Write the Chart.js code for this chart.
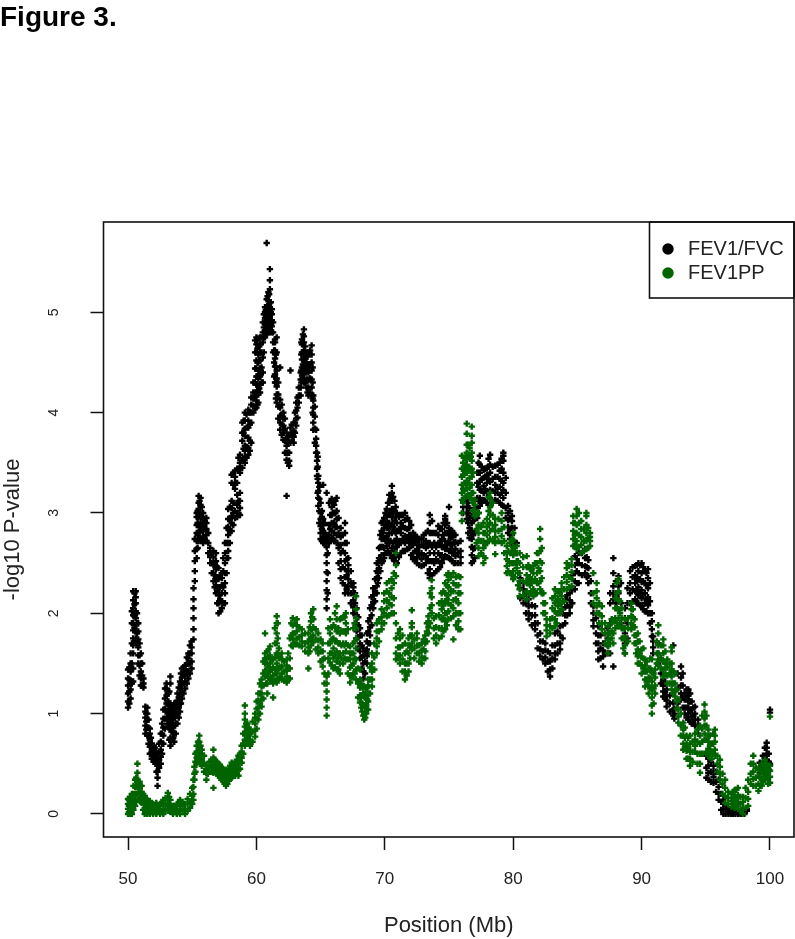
<!DOCTYPE html>
<html>
<head>
<meta charset="utf-8">
<title>Figure 3.</title>
<script src="https://cdn.jsdelivr.net/npm/chart.js@4"></script>
<style>
    body { margin: 0; background: #fff; }
    canvas { display: block; }
</style>
</head>
<body>
<canvas id="chart" width="795" height="939"></canvas>
<script>
const seriesNames = ["FEV1/FVC", "FEV1PP"];
const xTicksStep = 10;
const yTicksStep = 1;

// position (Mb) of each column of marks
const fvcPos = [50,50.2,50.4,50.6,50.8,51,51.2,51.35,51.5,51.7,51.85,52,52.15,52.3,52.55,52.75,53,53.15,53.3,53.45,53.6,53.85,54.05,54.2,54.45,54.7,54.95,55.1,55.2,55.35,55.5,55.65,55.85,56.1,56.4,56.65,56.85,57.05,57.3,57.55,57.8,58.07,58.33,58.72,58.9,59.1,59.37,59.6,59.76,60,60.15,60.28,60.5,60.67,60.8,60.93,61.05,61.2,61.45,61.58,61.85,62.1,62.35,62.55,62.65,62.9,63.1,63.3,63.45,63.55,63.7,63.9,64.05,64.3,64.43,64.65,64.72,64.82,65,65.2,65.47,65.65,65.86,66.05,66.25,66.56,66.9,67.16,67.55,67.8,68.07,68.33,68.6,68.85,69.1,69.37,69.55,69.75,69.95,70.15,70.35,70.55,70.75,70.93,71.25,71.57,71.9,72.2,72.5,72.86,73.2,73.5,73.85,74.17,74.45,74.7,75,75.25,75.5,75.9,76.1,76.38,76.6,76.77,77,77.2,77.4,77.7,77.95,78.2,78.6,78.95,79.23,79.6,79.9,80.27,80.8,81.2,81.7,82.1,82.5,82.87,83.25,83.65,84.05,84.4,84.8,85.1,85.6,85.85,86.25,86.63,87,87.35,87.8,88.2,88.7,89.1,89.5,89.75,90,90.25,90.5,90.8,90.9,91.3,91.69,91.95,92.47,92.55,93.07,93.35,93.64,93.9,94.16,94.4,95.2,95.6,96,96.37,96.76,97.1,97.5,97.85,98.2,99.2,99.45,99.74,100];
const fvcVals = [
[1.06,1.12,1.2,1.28,1.35,1.44],[1.15,1.24,1.33,1.42,1.5,1.6],[1.32,1.45,1.6,1.68,1.75,1.83,1.9,1.98,2.05,2.13,2.22],[1.75,1.82,1.88,1.95,2.02,2.1,2.16,2.22],[1.5,1.58,1.66,1.74,1.82,1.9],[1.28,1.35,1.42,1.5,1.6],[1.26,1.3,1.35],
[0.8,0.88,0.96,1.02,1.07],[0.78,0.86,0.94,1,1.06],[0.6,0.67,0.74,0.8,0.85],[0.55,0.62,0.7],[0.52,0.58,0.64,0.68],[0.5,0.56,0.62],[0.28,0.36,0.42,0.48,0.54,0.6],[0.5,0.57,0.64,0.72,0.8],[0.7,0.78,0.86,0.95,1.04],
[0.95,1.02,1.1,1.18,1.25,1.3],[0.88,0.96,1.04,1.12,1.2],[0.68,0.76,0.84,0.92,1,1.08,1.3,1.37],[0.75,0.83,0.9,0.98,1.06],[0.72,0.8,0.88,0.96,1.04,1.1],[0.9,0.98,1.06,1.13,1.2],[1.02,1.1,1.17,1.25,1.32],[1.15,1.22,1.29,1.36,1.45],[1.25,1.32,1.38,1.44,1.48],[1.35,1.42,1.5,1.55,1.6],[1.45,1.52,1.6,1.66,1.72],
[1.74,1.84,1.95,2.05,2.14,2.25],[2.32,2.42,2.52,2.62,2.74],[2.55,2.64,2.72,2.8,2.88,2.96,3],[2.72,2.8,2.88,2.96,3.04,3.1,3.17],[2.75,2.83,2.9,3,3.08,3.15],[2.7,2.76,2.82,2.88,2.94,3],[2.72,2.78,2.84,2.9,2.95],[2.5,2.56,2.6,2.65],[2.32,2.4,2.48,2.56,2.62],[2.2,2.28,2.36,2.44,2.52,2.6],[2,2.1,2.18,2.26,2.34,2.45],[2.05,2.12,2.2,2.28,2.35,2.4],[2.1,2.2,2.3,2.4,2.5,2.6,2.7],[2.55,2.62,2.7,2.78,2.86,2.94,3.04],
[2.82,2.9,2.97,3.05,3.12,3.3,3.38],[2.95,3.02,3.24,3.3,3.36,3.42],[2.98,3.05,3.12,3.2,3.4,3.45,3.5,3.58],[3.45,3.52,3.72,3.8,3.9],[3.5,3.56,3.62,3.67,3.77,3.84,3.92,4],[3.58,3.65,3.75,3.85,3.92,4.03],[3.7,3.9,4,4.08,4.15],[4,4.07,4.14,4.2,4.3],
[4.05,4.12,4.2,4.28,4.36,4.44,4.52,4.6,4.68,4.75],[4.1,4.18,4.26,4.34,4.42,4.5,4.58,4.66,4.74],[4.2,4.28,4.36,4.44,4.52,4.6,4.68,4.75],[4.3,4.4,4.55,4.7,4.8,4.9],[4.75,4.82,4.88,4.94,5,5.05],[4.78,4.86,4.95,5.05,5.13,5.69],[4.85,4.92,5,5.06,5.12,5.2],[4.8,4.88,4.96,5.04,5.1,5.23,5.32,5.43],[4.8,4.86,4.92,4.98,5.03],
[4.3,4.38,4.46,4.54,4.62,4.7,4.73],[4.1,4.18,4.26,4.34,4.42,4.6,4.75],[3.83,3.9,3.97,4.05,4.13,4.45],[3.73,3.8,3.87,3.94,4],[3.53,3.6,3.67,3.74,3.8,3.17],[3.47,3.52,3.6],[3.7,3.78,3.85,4.42],[3.7,3.76,3.82,3.9],[3.87,3.94,4.02,4.1],[4.1,4.17,4.25],[4.17,4.25,4.33,4.4],[4.37,4.45,4.53,4.6,4.68,4.73],[4.3,4.38,4.46,4.54,4.62,4.7,4.76,4.83],[4.25,4.33,4.41,4.5,4.58],[4.17,4.25,4.33,4.4,4.48,4.6],[4.17,4.25,4.33,4.42,4.5,4.58,4.67],
[3.83,3.9,3.98,4.05,4.12,4.17],[3.6,3.67,3.74,3.83],[3.37,3.44,3.52,3.6],[3.07,3.15,3.22,3.3,3.37],[2.74,2.8,2.87,2.94,3,3.1],[2.7,2.76,2.82,2.88,2.94,3.28],[2.05,2.14,2.23,2.32,2.41,2.5,2.58,2.66,2.74,3.2],[2.7,2.78,2.88,3.1],[2.75,2.82,2.9,2.98,3.06,3.14],[2.72,2.8,2.9,3,3.08],[2.7,2.78,2.86,2.94,3.02,3.15],
[2.35,2.44,2.52,2.6,2.68,2.76,2.85],[2.2,2.28,2.36,2.44,2.52,2.6,2.7,2.8,2.9],[2.2,2.27,2.34,2.42,2.48,2.55],[2,2.06,2.13,2.2,2.26,2.3],[1.75,1.82,1.9,1.98,2.05],[1.55,1.62,1.7,1.78,1.85],[1.35,1.42,1.5,1.58,1.65],[1.5,1.57,1.64,1.72,1.8],[1.7,1.78,1.86,1.95,2.05],[2.05,2.11,2.18,2.25],[2.2,2.27,2.35,2.42,2.5],[2.35,2.45,2.55,2.65],[2.5,2.58,2.66,2.74,2.82,2.9],[2.55,2.65,2.75,2.85,2.95],
[2.6,2.67,2.77,2.85,2.92,2.98,3.04],[2.6,2.7,2.8,2.9,3,3.1,3.18],[2.55,2.65,2.8,2.88,2.96,3.04,3.12,3.2,3.27],[2.52,2.62,2.72,2.82,2.92,3.02,3.12],[2.5,2.58,2.66,2.74,2.82,2.9,3],[2.6,2.7,2.8,2.9,2.98],[2.62,2.7,2.77,2.85,2.93,3],[2.65,2.72,2.78,2.85,2.92],[2.54,2.6,2.68,2.74,2.8],[2.5,2.56,2.62,2.7,2.76],[2.47,2.54,2.6,2.68,2.74],[2.5,2.57,2.65,2.72,2.8],[2.35,2.44,2.52,2.6,2.7,2.8,2.9,2.98],[2.4,2.5,2.6,2.7,2.8],[2.44,2.52,2.6,2.7,2.78,2.87],[2.5,2.58,2.66,2.74,2.84],[2.57,2.64,2.72,2.8,2.88,2.94,2.97],
[2.55,2.62,2.7,2.78,2.85,3.06],[2.52,2.6,2.68,2.76,2.82],[2.5,2.57,2.64,2.71,2.78],[2.5,2.56,2.62,2.72],[3,3.06,3.12],[2.94,3,3.06,3.13],[2.75,2.85,2.95,3.05],[2.5,2.58,2.66,2.74,2.82,2.9,2.97],[2.55,2.65,2.8,2.95,3.05],[2.95,3.05,3.15,3.3,3.4],[3.07,3.15,3.23,3.31,3.4,3.48,3.57],[3.13,3.2,3.27,3.35,3.43],[3.1,3.2,3.3,3.38,3.45],[3.07,3.15,3.23,3.31,3.4,3.48,3.58],[3.13,3.2,3.28,3.36,3.47],[3.1,3.18,3.26,3.34,3.42,3.5],[3.07,3.15,3.23,3.3,3.4,3.52,3.57,3.6],[2.8,2.86,2.93,3,3.07],[2.7,2.78,2.85,2.92,2.97],[2.5,2.6,2.7],
[2.1,2.17,2.24,2.3],[1.94,2,2.07,2.14],[1.84,1.9,1.98,2.07],[1.57,1.64,1.72,1.8],[1.5,1.56,1.63,1.7],[1.37,1.44,1.52,1.6],[1.54,1.6,1.68,1.8],[1.64,1.7,1.78,1.87],[1.9,1.98,2.06,2.14],[2,2.06,2.13,2.2],[2.24,2.32,2.4,2.48,2.57],[2.3,2.4,2.5,2.6],[2.4,2.47,2.55,2.64],[2.3,2.37,2.45,2.53],[1.87,1.93,2,2.07],[1.54,1.62,1.7,1.78,1.87],[1.47,1.57,1.63,1.7],[1.6,1.68,1.75,1.85],[1.47,2.14,2.2,2.27,2.4,2.55],[2.14,2.2,2.27,2.37],[1.6,1.7,1.8,1.95,2.05],[2.1,2.2,2.3,2.42],[2.14,2.22,2.3,2.38,2.47],[2.1,2.18,2.26,2.34,2.42,2.5],[2.07,2.15,2.23,2.31,2.4,2.5],[2.02,2.1,2.2,2.3,2.42],[2,2.08,2.16,2.25,2.35,2.44],[1.77,1.84,1.92,2],[1.6,1.66,1.72,1.77],
[1.5,1.6,1.7],[1.17,1.22,1.28,1.34],[1.07,1.13,1.18,1.24],[0.98,1.04,1.11,1.68],[0.95,1,1.05],[1.14,1.2,1.28,1.36,1.47],[1,1.06,1.14,1.2],[0.94,1,1.06,1.12,1.18,1.24],[0.9,0.97,1.04,1.12],[0.88,0.94,1,1.07],[0.88,0.94,0.8],[0.34,0.41,0.48,0.55,0.61],[0.31,0.37,0.42,0.48],[0.14,0.2,0.27,0.34],[0,0.05,0.1,0.14],[0,0.03,0.05],[0,0.03],[0,0.03,0.05],[0,0.03],[0.03,0.05],[0.41,0.46,0.51],[0.45,0.52,0.58],[0.48,0.54,0.6,0.66,0.71],[0.5,1.01,1.04]
];
// second reading between those columns: [position, value, value, ...]
const fvcInBetween = [
[50.1,1.1,1.22,1.34,1.46],[50.3,1.3,1.5,1.7,1.9,2.02],[50.5,1.72,1.85,1.97,2.09,2.2],[50.7,1.7,1.8,1.9,2],[50.9,1.38,1.48,1.58,1.7],[51.1,1.28,1.38,1.5],[51.42,0.84,0.92,1],[51.6,0.7,0.78,0.86,0.94],[51.78,0.6,0.68,0.76],[51.92,0.55,0.62],[52.08,0.52,0.6,0.66],[52.22,0.42,0.5,0.58],[52.42,0.46,0.54,0.62,0.7],[52.65,0.6,0.7,0.8,0.9],[52.88,0.85,0.95,1.05,1.15,1.25],[53.08,0.9,1,1.1,1.2],[53.22,0.74,0.86,0.98,1.1,1.22],[53.38,0.72,0.82,0.94,1.02],[53.52,0.76,0.86,0.94,1.02],[53.72,0.8,0.9,1,1.1],[53.95,0.96,1.06,1.16,1.26],[54.12,1.1,1.2,1.3,1.4],[54.32,1.2,1.3,1.4,1.46],[54.58,1.3,1.4,1.5,1.56],[54.82,1.4,1.5,1.6,1.68],
[55.42,2.65,2.78,2.9,3.02],[55.57,2.74,2.86,2.98,3.12],[55.75,2.72,2.84,2.96,3.06],[55.98,2.74,2.84,2.92],[56.25,2.6,2.7,2.8],[56.52,2.4,2.5,2.6],[56.75,2.26,2.38,2.5],[56.95,2.1,2.22,2.34,2.46],[57.18,2.02,2.14,2.26,2.38],[57.42,2.1,2.26,2.42,2.55],[57.68,2.4,2.55,2.7,2.85],[57.93,2.7,2.82,2.94,3.06],[58.2,2.88,3,3.1,3.28,3.4],[58.5,2.96,3.08,3.18,3.3,3.44],[58.6,3,3.12,3.44,3.55],[59,3.54,3.64,3.8,3.92],[59.23,3.55,3.66,3.85,3.98],[59.48,3.62,3.72,3.88,4],[59.9,4.04,4.16,4.3,4.44,4.6,4.72],[60.08,4.08,4.22,4.36,4.5,4.64,4.72],[60.22,4.24,4.38,4.52,4.66],[60.4,4.3,4.45,4.6,4.75],[60.58,4.6,4.75,4.85,4.98],[60.73,4.78,4.9,5.02],[60.87,4.82,4.94,5.06,5.16],[60.99,4.84,4.96,5.08,5.18],[61.12,4.82,4.9,5,5.1],[61.3,4.6,4.7,4.8,4.9],[61.38,4.36,4.5,4.62],[61.52,4.14,4.3,4.46,4.58],[61.7,3.94,4.06,4.18,4.3],[61.97,3.78,3.88,3.98,4.08],[62.22,3.6,3.72,3.84,3.94],[62.45,3.5,3.6,3.7,3.76],[62.75,3.72,3.8,3.88],[63,3.8,3.9,4],[63.2,3.95,4.05,4.15],[63.5,4.3,4.42,4.58,4.7],[63.62,4.34,4.48,4.6,4.78],[63.8,4.3,4.42,4.54,4.66],[63.98,4.2,4.32,4.44,4.56],[64.18,4.2,4.34,4.48,4.62],[64.38,4,4.14,4.3,4.45],[64.55,3.7,3.84,3.96,4.06],[64.77,3.2,3.34,3.46,3.56],[64.9,2.9,3.02,3.14,3.26],
[65.1,2.72,2.84,2.96,3.02],[65.32,2.7,2.8,2.9],[65.55,2.2,2.4,2.6,2.75],[65.75,2.72,2.84,2.98],[65.95,2.74,2.88,3,3.12],[66.15,2.72,2.86,3,3.12],[66.4,2.5,2.65,2.8,2.95],[66.72,2.3,2.46,2.62,2.78],[67.03,2.24,2.38,2.54,2.7],[67.35,2.1,2.2,2.3,2.42],[67.68,1.9,2,2.1,2.2],[67.93,1.65,1.76,1.88,1.96],[68.2,1.45,1.56,1.68,1.78],[68.46,1.4,1.52,1.62],[68.72,1.6,1.7,1.82,1.92],[68.97,1.88,1.98,2.08,2.16],[69.24,2.12,2.22,2.34],[69.46,2.3,2.4,2.5],[69.65,2.42,2.54,2.66,2.78],[69.85,2.52,2.66,2.8,2.92],[70.05,2.6,2.72,2.88,3],[70.25,2.62,2.74,2.86,2.98,3.1],[70.45,2.58,2.72,2.86,3,3.14],[70.65,2.56,2.7,2.86,3,3.16],[70.85,2.52,2.66,2.8,2.96,3.06],[71.1,2.56,2.7,2.84,2.96],[71.4,2.62,2.74,2.86,2.98],[71.75,2.64,2.74,2.84,2.95],[72.05,2.58,2.68,2.78,2.88],[72.35,2.52,2.62,2.72,2.78],[72.68,2.48,2.58,2.66,2.74],[73.03,2.48,2.58,2.68,2.78],[73.35,2.4,2.54,2.68,2.82],[73.68,2.38,2.52,2.66,2.8,2.92],[74,2.42,2.54,2.66,2.8],[74.3,2.46,2.58,2.7,2.84],[74.58,2.54,2.66,2.78,2.9],[74.85,2.56,2.68,2.8,2.9],[75.12,2.54,2.64,2.74,2.82],[75.38,2.5,2.6,2.7,2.78],[75.7,2.5,2.6,2.7],
[76.5,2.8,2.9,3,3.1],[76.88,2.52,2.64,2.78,2.92],[77.3,3,3.12,3.26,3.4,3.5],[77.55,3.1,3.22,3.34,3.46],[77.82,3.12,3.24,3.36,3.44],[78.08,3.08,3.2,3.34,3.46,3.54],[78.4,3.1,3.22,3.34,3.46],[78.78,3.12,3.24,3.36,3.48],[79.1,3.08,3.2,3.32,3.44,3.54],[79.42,2.95,3.05,3.2,3.35],[79.75,2.74,2.84,2.94,3.02],[80.1,2.5,2.6,2.7,2.85],[80.55,2.15,2.25,2.35],[81,2,2.1,2.2],[81.45,1.88,1.98,2.08],[81.9,1.65,1.78,1.9],[82.3,1.54,1.62,1.72],[82.7,1.42,1.52,1.62],[83.05,1.45,1.55,1.68],[83.45,1.6,1.7,1.82],[83.85,1.75,1.88,2],[84.2,1.98,2.08,2.18],[84.6,2.1,2.24,2.38],[84.95,2.3,2.42,2.54],[85.35,2.38,2.48,2.6],[85.72,2.36,2.46,2.56],[86.05,2.1,2.2,2.32],[86.45,1.7,1.8,1.95],[86.8,1.55,1.65,1.78],[87.15,1.6,1.7,1.8],[87.55,1.6,1.9,2.1,2.2],[88,2.1,2.2,2.32],[88.4,1.9,2.1,2.3],[88.9,1.75,1.9,2.1,2.25],[89.3,2.12,2.24,2.36,2.46],[89.62,2.1,2.22,2.34,2.48],[89.88,2.08,2.2,2.34,2.48],[90.12,2.04,2.18,2.32,2.46],[90.38,2.02,2.14,2.28,2.4],[90.65,1.9,2,2.12,2.3],[91.5,1.3,1.4,1.55],[91.82,1.15,1.22,1.3],[92.2,1.02,1.1,1.18],[92.8,1.1,1.25,1.4],[93.2,1.06,1.16,1.28,1.4],[93.5,0.96,1.06,1.16,1.24],[93.78,0.92,1.02,1.12,1.2],[94.03,0.9,0.98,1.06],[95.05,0.36,0.46,0.58],[95.4,0.32,0.42,0.52],[95.8,0.22,0.32,0.42],[96.2,0.04,0.12,0.2],[96.55,0,0.05,0.09],[96.95,0,0.03],[97.3,0,0.03],[97.7,0,0.03],[98,0,0.03],[99.6,0.46,0.56,0.66],[99.9,0.44,0.52,0.6]
];

const ppPos = [50,50.15,50.3,50.55,50.73,50.9,51.06,51.3,51.5,51.7,51.95,52.2,52.5,52.75,53.1,53.3,53.5,53.8,54.05,54.44,54.83,55.09,55.17,55.35,55.55,55.74,56.1,56.35,56.65,56.9,57.16,57.4,57.63,57.85,58.07,58.35,58.6,58.85,59.1,59.3,59.5,59.9,60.15,60.4,60.67,60.85,61.06,61.3,61.58,61.75,61.97,62.36,62.6,62.83,63.14,63.53,64.05,64.25,64.43,64.82,65.16,65.47,65.73,66,66.25,66.5,66.75,66.97,67.3,67.55,67.76,68.07,68.25,68.4,68.55,68.7,69,69.37,69.75,70.15,70.53,70.87,71.18,71.57,71.85,72.1,72.5,72.87,73.15,73.4,73.65,74,74.43,74.7,74.95,75.34,75.73,76,76.2,76.38,76.6,76.77,77,77.3,77.68,77.95,78.2,78.6,79.1,79.5,79.75,80,80.27,80.5,81.05,81.3,81.57,81.85,82.1,82.35,82.6,82.87,83.25,83.5,83.77,84.17,84.55,84.68,84.94,85.3,85.7,85.98,86.5,86.9,87.4,87.67,87.95,88.2,88.45,88.7,89.2,89.45,89.7,90,90.27,90.55,90.8,91.05,91.3,91.69,92,92.34,92.6,92.86,93.25,93.5,93.77,94.16,94.55,94.9,95.2,95.45,95.7,96.1,96.5,97,97.25,97.5,97.9,98.3,98.7,99.1,99.35,99.6,99.85,100];
const ppVals = [
[0,0.05,0.1,0.15],[0,0.06,0.12,0.17],[0,0.07,0.13,0.2],[0.08,0.14,0.2,0.27,0.34],[0.14,0.2,0.27,0.34,0.41,0.5],[0.14,0.2,0.26,0.32],[0.11,0.16,0.22,0.28],[0,0.06,0.12,0.18],[0,0.05,0.1,0.14],[0,0.05,0.1,0.13],[0,0.05,0.1],[0,0.05,0.11],[0,0.05,0.1],[0,0.05,0.1,0.14],[0.03,0.08,0.14,0.21],[0.02,0.08,0.14],[0,0.04,0.08],[0,0.05,0.1],[0,0.05,0.1,0.14],[0,0.05,0.1],[0.06,0.12,0.2],
[0.14,0.2,0.27,0.34],[0.34,0.4,0.47],[0.51,0.56,0.62,0.68],[0.54,0.6,0.66,0.72,0.78],[0.48,0.54,0.6,0.64],[0.34,0.41,0.45,0.49],[0.42,0.47,0.52],[0.26,0.41,0.46,0.52,0.56,0.64],[0.4,0.46,0.52],[0.36,0.42,0.49],[0.33,0.39,0.45],[0.28,0.34,0.39,0.44],[0.33,0.39,0.45],[0.36,0.42,0.47,0.51],[0.38,0.44,0.5],[0.38,0.44,0.5,0.58],[0.51,0.56,0.62,0.68],[0.68,0.74,0.8,0.87,0.94,1,1.08],[0.7,0.76,0.84,0.9],[0.68,0.74,0.8,0.84],
[0.77,0.83,0.9,0.96,1],[0.94,1,1.06,1.13,1.2],[1.07,1.14,1.2,1.27,1.34],[1.37,1.43,1.5,1.55,1.6,1.8],[1.2,1.3,1.4,1.5,1.62],[1.34,1.42,1.5,1.58,1.67],[1.3,1.38,1.46,1.54,1.16],[1.31,1.4,1.5,1.6,1.7,1.8,1.9,1.97],[1.35,1.45,1.55,1.65],[1.34,1.4,1.47,1.54,1.6],[1.31,1.37,1.43,1.48,1.54],[1.35,1.45,1.55,1.75],[1.67,1.74,1.8,1.88,1.95],[1.69,1.75,1.82,1.88,1.94],[1.67,1.72,1.78,1.84],[1.6,1.66,1.72,1.8,1.45],[1.68,1.76,1.84,1.92,2],[1.71,1.78,1.86,1.94,2.04],[1.6,1.66,1.73,1.8],[1.47,1.54,1.62,1.7],
[0.98,1.06,1.14,1.22,1.3,1.37],[1.51,1.6,1.7,1.8,1.94],[1.45,1.55,1.65,1.75,1.88],[1.44,1.52,1.62,1.72,1.82,1.94,2.07],[1.4,1.5,1.6,1.7,1.8,1.94],[1.5,1.6,1.7,1.82,1.96],[1.54,1.62,1.7,1.8,1.9,2],[1.31,1.38,1.46,1.54,1.6,1.67],[1.4,1.5,1.6,1.7,1.85],[1.34,1.44,1.54,1.65,1.75,1.85,1.95,2.04,2.17],[1.11,1.18,1.26,1.34,1.44],[1.02,1.1,1.18,1.26],[0.94,1,1.08,1.17,1.27],[1,1.08,1.16,1.25],[1.04,1.12,1.2,1.28,1.34],[1.27,1.34,1.42,1.5,1.6],[1.6,1.67,1.75,1.82,1.9],[1.84,1.9,1.96,2.04],
[1.97,2.05,2.13,2.22,2.3],[2,2.08,2.16,2.25,2.34],[1.54,1.6,1.75,1.9,2.37,2.48,2.6],[1.5,1.58,1.66,1.75,1.84],[1.34,1.42,1.5,1.6,1.7],[1.42,1.5,1.6,1.68,1.75],[1.64,1.7,1.78,1.86,1.9,2.03],[1.6,1.68,1.75,1.8],[1.5,1.56,1.63,1.7],[1.55,1.62,1.7,1.78],[1.8,1.86,1.92,1.97],[2,2.08,2.16,2.25,2.33],[1.7,1.78,1.86,1.97],[1.77,1.85,1.94,2.04,2.12,2.2],[1.84,1.92,2,2.1,2.2,2.3],[1.94,2.02,2.1,2.18,2.26,2.33,2.4],[1.97,2.05,2.13,2.22,2.3,2.4,1.74],[1.84,1.92,2,2.1,2.2,2.28,2.37],
[2.92,3,3.13,3.2,3.28,3.36,3.44,3.57],[3.15,3.22,3.3,3.38,3.46,3.55],[3.17,3.24,3.32,3.4,3.48,3.54,3.6,3.68,3.79,3.89],[3.15,3.25,3.35,3.45,3.55,3.65],[3.13,3.2,3.28,3.36,3.44,3.52,3.6,3.7,3.77,3.86],[2.97,3.03,3.08,3.13],[2.57,2.65,2.73,2.8,2.88,3],[2.5,2.57,2.65,2.72,2.8,2.9],[2.7,2.78,2.86,2.94],[2.74,2.82,2.9,2.98,3.06,3.14,3.2],[2.59,2.7,2.76,2.82,2.88,2.94],[2.7,2.77,2.84,2.92,3],[2.4,2.47,2.54,2.6,2.67],[2.4,2.5,2.6,2.7],[2.34,2.42,2.5,2.58,2.66,2.73,2.8],[2.45,2.52,2.6,2.67],[2.17,2.24,2.32,2.4,2.5,2.6],[2.14,2.22,2.3,2.38,2.46,2.57],[2.2,2.28,2.36,2.44],[2.17,2.24,2.32,2.4,2.47],[2.2,2.3,2.4,2.5,2.6],[2.24,2.32,2.42,2.52,2.62,2.74,2.84],[2,2.1,2.2],[1.77,1.83,1.88,1.94],[1.8,1.87,1.94],
[1.87,1.94,2.02,2.1,2.17,2.24],[2,2.07,2.14,2.22],[2.04,2.1,2.17,2.24,2.3],[2.24,2.31,2.38,2.45,2.5],[2.27,2.34,2.41,2.48,2.54],[2.67,2.74,2.82,2.9,2.97],[2.64,2.72,2.8,2.88,2.97,3.04],[2.6,2.68,2.76,2.84,2.92],[2.64,2.72,2.8,2.88,2.97,3],[2.67,2.72,2.76,2.8],[2,2.07,2.15,2.22,2.3],[1.84,1.9,1.97,2.07],[1.6,1.67,1.74,1.8,1.87],[1.75,1.82,1.9,1.94],[1.85,1.95,2.05,2.15],[1.87,1.95,2.04,2.13,2.22,2.34],[1.75,1.85,1.95,2.05],[1.6,1.68,1.76,1.85,1.94],[1.84,1.9,1.97,2.04,2.1],[1.7,1.78,1.86,1.94],[1.5,1.57,1.64,1.72,1.8],[1.4,1.48,1.56,1.64],[1.27,1.34,1.42,1.48,1.54],[1.2,1.28,1.36,1.45],[1,1.08,1.16,1.24,1.32,1.41,1.54],[1.2,1.28,1.36,1.44],[1.48,1.54,1.6,1.68,1.8,1.88],[1.37,1.44,1.52,1.6,1.68,1.74],[1.3,1.38,1.46,1.54],[1.24,1.3,1.37,1.44,1.5,1.62,1.66],
[1.17,1.23,1.3,1.4],[0.91,0.97,1.04,1.14],[0.64,0.7,0.78,0.84,0.91],[0.55,0.63,0.7,0.78],[0.48,0.55,0.62,0.7,0.78],[0.62,0.68,0.74,0.8],[0.41,0.5,0.6,0.7,0.78,0.88],[0.74,0.8,0.88,0.95,1.02,1.09],[0.58,0.65,0.72,0.78,0.84],[0.55,0.62,0.7],[0.58,0.64,0.72,0.78,0.84],[0.34,0.4,0.47,0.54],[0.11,0.18,0.26,0.34],[0.07,0.13,0.2],[0.06,0.12,0.18,0.24],[0.05,0.12,0.19,0.26],[0,0.06,0.12,0.17],[0.08,0.15,0.22,0.34],[0.28,0.35,0.42,0.5,0.58],[0.23,0.3,0.38,0.45],[0.28,0.35,0.42,0.5],[0.34,0.4,0.47,0.54],[0.3,0.36,0.42,0.48],[0.31,0.37,0.43,0.48,0.97]
];
const ppInBetween = [
[50.07,0.02,0.08,0.14],[50.22,0.03,0.1,0.16],[50.42,0.04,0.12,0.2,0.28],[50.64,0.12,0.2,0.28,0.36],[50.82,0.14,0.22,0.3],[50.98,0.12,0.2,0.28],[51.18,0.04,0.12,0.2],[51.4,0.02,0.08,0.15],[51.6,0.02,0.08,0.12],[51.82,0.02,0.08],[52.08,0.02,0.08],[52.35,0.02,0.08],[52.62,0.03,0.1],[52.92,0.04,0.1,0.16],[53.2,0.03,0.1,0.17],[53.4,0.02,0.07],[53.65,0.03,0.08],[53.92,0.03,0.1],[54.25,0.03,0.08,0.12],[54.64,0.03,0.1,0.15],[55,0.1,0.18,0.26],[55.25,0.42,0.52,0.6],[55.45,0.54,0.62,0.72],[55.65,0.5,0.58,0.68],[55.92,0.42,0.5,0.58],[56.22,0.4,0.46],[56.5,0.42,0.48,0.54],[56.78,0.42,0.48,0.54],[57.03,0.38,0.44,0.5],[57.28,0.34,0.4,0.46],[57.52,0.3,0.36,0.42],[57.74,0.3,0.36,0.42],[57.96,0.35,0.42,0.48],[58.2,0.38,0.44,0.5],[58.48,0.4,0.47,0.54],[58.72,0.45,0.52,0.6],[58.97,0.6,0.7,0.8],[59.2,0.72,0.82,0.9],[59.4,0.7,0.78,0.86],[59.7,0.72,0.82,0.92],[60.02,0.85,0.95,1.05,1.12],[60.28,1,1.1,1.2,1.3],[60.54,1.15,1.28,1.4,1.52],[60.76,1.3,1.42,1.55],[60.95,1.36,1.46,1.56,1.64],[61.18,1.34,1.44,1.54],[61.44,1.33,1.44,1.56,1.7,1.85],[61.66,1.34,1.45,1.6,1.75,1.9],[61.86,1.36,1.46,1.56],[62.16,1.33,1.42,1.52],[62.48,1.34,1.45,1.6],[62.72,1.68,1.78,1.9],[62.98,1.7,1.8,1.9],[63.34,1.68,1.76,1.86],[63.8,1.62,1.7,1.8],[64.15,1.62,1.74,1.86],[64.34,1.72,1.84,1.96],[64.62,1.64,1.74,1.84],
[65,1.52,1.62,1.74],[65.3,1.3,1.4,1.55],[65.6,1.4,1.55,1.7,1.85],[65.87,1.48,1.6,1.74,1.86],[66.12,1.46,1.58,1.72,1.86,2],[66.38,1.44,1.56,1.7,1.85],[66.62,1.55,1.68,1.82,1.95],[66.86,1.55,1.68,1.82,1.96],[67.12,1.4,1.54,1.68,1.84],[67.42,1.36,1.48,1.6],[67.65,1.4,1.55,1.72,1.9],[67.92,1.16,1.3,1.45],[68.16,1.06,1.16,1.3],[68.32,0.98,1.08,1.2],[68.48,0.96,1.06,1.2],[68.62,1.04,1.14,1.26],[68.85,1.2,1.34,1.46],[69.18,1.44,1.56,1.7],[69.55,1.72,1.82,1.94],[69.95,1.9,2,2.12,2.2],[70.34,1.98,2.1,2.2,2.32],[70.7,2,2.15,2.3,2.4],[71.03,1.55,1.66,1.8],[71.38,1.42,1.54,1.68,1.78],[71.7,1.38,1.5,1.62],[71.98,1.55,1.66,1.78],[72.3,1.55,1.65,1.74],[72.68,1.52,1.6,1.68],[73.02,1.55,1.64,1.74],[73.28,1.72,1.82,1.9],[73.52,1.9,2.05,2.2],[73.82,1.75,1.85,1.95],[74.22,1.75,1.85,1.98,2.1],[74.56,1.82,1.95,2.08,2.22],[74.83,1.88,2,2.14,2.28,2.38],[75.15,1.95,2.08,2.22,2.36],[75.54,1.88,2,2.14,2.28,2.36],[75.88,1.84,2,2.2,2.36],
[76.1,3.1,3.24,3.38,3.5],[76.3,3.16,3.28,3.42,3.54],[76.5,3.18,3.3,3.44,3.58,3.68],[76.7,3.15,3.28,3.42,3.56],[76.88,3.02,3.1,3.2,3.4],[77.15,2.7,2.84,2.98],[77.5,2.6,2.72,2.86],[77.82,2.55,2.68,2.8],[78.08,2.72,2.88,3.02,3.16],[78.4,2.72,2.84,2.98,3.1],[78.85,2.72,2.82,2.94],[79.3,2.6,2.72,2.86],[79.62,2.42,2.52,2.62],[79.88,2.38,2.5,2.62,2.74],[80.13,2.36,2.5,2.62],[80.38,2.28,2.4,2.52],[80.78,2.18,2.32,2.46,2.56],[81.18,2.2,2.34,2.48],[81.44,2.2,2.32,2.44],[81.7,2.2,2.34,2.5],[81.97,2.3,2.45,2.6],[82.22,2.2,2.35,2.5,2.65],[82.48,2,2.1],[83.05,1.85,1.95,2.05,2.15],[83.38,1.9,2,2.12,2.22],[83.63,2,2.1,2.2],[83.97,2.12,2.24,2.36],[84.36,2.26,2.36,2.48],[84.8,2.68,2.78,2.9],[85.12,2.66,2.78,2.9,3],[85.5,2.62,2.72,2.84],[85.84,2.65,2.75,2.85],[86.24,2.1,2.2,2.4],[86.7,1.9,2,2.1],[87.15,1.7,1.8,1.9],[87.53,1.7,1.8],[87.8,1.7,1.8,1.92],[88.08,1.9,2.05,2.2,2.3],[88.32,1.9,2,2.12],[88.58,1.65,1.75,1.85],[88.95,1.72,1.85,1.95],[89.32,1.88,1.96,2.04],[89.58,1.6,1.7,1.78],[89.85,1.5,1.6,1.72],[90.14,1.45,1.55,1.65],[90.4,1.32,1.42,1.52],[90.68,1.25,1.35,1.45,1.55],[90.93,1.1,1.25,1.4],[91.18,1.5,1.6,1.72],[91.5,1.45,1.55,1.68],[91.85,1.4,1.5,1.62],[92.18,1.3,1.4,1.5],[92.47,1.2,1.3,1.42],[92.73,1.05,1.12,1.24],[93.05,0.78,0.88,1],[93.37,0.66,0.76,0.86],[93.63,0.55,0.66,0.76],[93.97,0.52,0.62,0.72],[94.35,0.5,0.6,0.72,0.84],[94.72,0.6,0.72,0.85,0.98],[95.05,0.62,0.74,0.88,0.98],[95.32,0.6,0.68,0.78],[95.58,0.6,0.7,0.8],[95.9,0.42,0.5,0.58],[96.3,0.2,0.3,0.4],[96.75,0.1,0.16,0.22],[97.12,0.1,0.16,0.22],[97.38,0.08,0.16,0.24],[97.7,0.03,0.1,0.17],[98.1,0.06,0.16,0.26],[98.5,0.3,0.4,0.5],[98.9,0.28,0.36,0.46],[99.22,0.28,0.36,0.44],[99.48,0.32,0.4,0.48],[99.72,0.36,0.44,0.5]
];

// column position + value lists -> scatter points
const toPoints = (pos, vals, more) => [
    ...pos.flatMap((x, i) => vals[i].map((y) => ({ x, y }))),
    ...more.flatMap(([x, ...ys]) => ys.map((y) => ({ x, y }))),
];

const chartBorder = {
    id: "chartBorder",
    afterLayout(chart) {
        // legend sits in its framed corner, not at the chart area's left
        chart.legend.left = 654;
        chart.legend.top = 235;
    },
    afterDraw(chart) {
        const { ctx, chartArea: a } = chart;
        ctx.save();
        ctx.strokeStyle = "#111";
        ctx.lineWidth = 1.6;
        ctx.strokeRect(a.left, a.top, a.right - a.left, a.bottom - a.top);
        // legend frame
        ctx.strokeRect(649.5, a.top, a.right - 649.5, 76);
        ctx.restore();
    },
};

new Chart(document.getElementById("chart"), {
    type: "scatter",
    data: {
        datasets: [
            {
                label: seriesNames[0],
                data: toPoints(fvcPos, fvcVals, fvcInBetween),
                borderColor: "#000",
                backgroundColor: "#000",
                order: 2,
            },
            {
                label: seriesNames[1],
                data: toPoints(ppPos, ppVals, ppInBetween),
                borderColor: "#006400",
                backgroundColor: "#006400",
                order: 1,
            },
        ],
    },
    options: {
        responsive: false,
        animation: false,
        layout: { autoPadding: false, padding: { right: 1 } },
        elements: {
            point: { pointStyle: "cross", radius: 3.2, borderWidth: 2.4 },
        },
        scales: {
            x: {
                type: "linear",
                min: 48.09,
                max: 101.87,
                afterFit: (scale) => {
                    scale.height = 102;
                    // big tick padding would otherwise eat into the right edge
                    scale.paddingLeft = 0;
                    scale.paddingRight = 0;
                },
                grid: { drawOnChartArea: false, tickLength: 13, tickColor: "#111", tickWidth: 1.5 },
                border: { display: false },
                ticks: {
                    stepSize: xTicksStep,
                    includeBounds: false,
                    autoSkip: false,
                    maxRotation: 0,
                    padding: 19,
                    color: "#222",
                    font: { family: "Liberation Sans", size: 17 },
                },
                title: {
                    display: true,
                    text: "Position (Mb)",
                    color: "#222",
                    padding: 0,
                    font: { family: "Liberation Sans", size: 22 },
                },
            },
            y: {
                min: -0.23,
                max: 5.9,
                afterFit: (scale) => { scale.width = 103.5; },
                grid: { drawOnChartArea: false, tickLength: 13, tickColor: "#111", tickWidth: 1.5 },
                border: { display: false },
                ticks: {
                    stepSize: yTicksStep,
                    includeBounds: false,
                    autoSkip: false,
                    minRotation: 90,
                    maxRotation: 90,
                    crossAlign: "center",
                    padding: 32,
                    color: "#222",
                    font: { family: "Liberation Sans", size: 14 },
                },
                title: {
                    display: true,
                    text: "-log10 P-value",
                    color: "#222",
                    padding: 0,
                    font: { family: "Liberation Sans", size: 22 },
                },
            },
        },
        plugins: {
            title: {
                display: true,
                text: "Figure 3.",
                align: "start",
                color: "#000",
                padding: { top: 1, bottom: 187.4 },
                font: { family: "Liberation Sans", size: 28, weight: "bold" },
            },
            legend: {
                position: "chartArea",
                align: "start",
                labels: {
                    usePointStyle: true,
                    pointStyle: "circle",
                    boxWidth: 20,
                    boxHeight: 6.4,
                    padding: 4,
                    color: "#222",
                    font: { family: "Liberation Sans", size: 20 },
                    sort: (a, b) => a.datasetIndex - b.datasetIndex,
                },
            },
            tooltip: { enabled: false },
        },
    },
    plugins: [chartBorder],
});
</script>
</body>
</html>
